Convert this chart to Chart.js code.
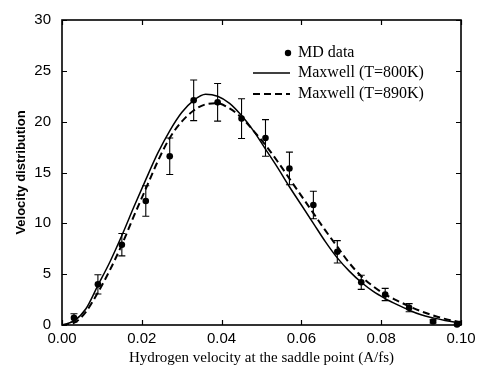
<!DOCTYPE html>
<html>
<head>
<meta charset="utf-8">
<script src="https://cdn.jsdelivr.net/npm/chart.js@4.4.1/dist/chart.umd.min.js"></script>
<style>
  html, body { margin: 0; padding: 0; background: #ffffff; }
  #wrap { width: 487px; height: 372px; }
</style>
</head>
<body>
<div id="wrap"><canvas id="c" width="487" height="372"></canvas></div>
<script>
// ---- data ----
const mdVelocity = [0.003, 0.009, 0.015, 0.021, 0.027, 0.033, 0.039, 0.045, 0.051, 0.057, 0.063, 0.069, 0.075, 0.081, 0.087, 0.093, 0.099];
const mdDistribution = [0.7, 4.0, 7.9, 12.2, 16.6, 22.1, 21.9, 20.3, 18.4, 15.4, 11.8, 7.2, 4.2, 3.0, 1.7, 0.35, 0.05];
const mdError = [0.4, 0.95, 1.1, 1.5, 1.8, 2.0, 1.85, 1.95, 1.8, 1.6, 1.35, 1.1, 0.7, 0.6, 0.4, 0.15, 0];

const curveVelocity = [0, 0.003, 0.006, 0.009, 0.012, 0.015, 0.018, 0.021, 0.024, 0.027, 0.030, 0.033, 0.036, 0.039, 0.042, 0.045, 0.048, 0.051, 0.054, 0.057, 0.060, 0.063, 0.066, 0.069, 0.072, 0.075, 0.078, 0.081, 0.084, 0.087, 0.090, 0.093, 0.096, 0.099, 0.100];
const maxwell800 = [0, 0.4, 1.6, 3.9, 6.2, 8.8, 11.6, 14.3, 16.9, 19.1, 20.9, 22.1, 22.7, 22.5, 21.8, 20.6, 19.1, 17.3, 15.5, 13.6, 11.8, 10.0, 8.2, 6.6, 5.3, 4.2, 3.3, 2.6, 2.0, 1.45, 1.0, 0.7, 0.45, 0.25, 0.2];
const maxwell890 = [0, 0.2, 1.3, 3.2, 5.4, 7.9, 10.7, 13.4, 16.1, 18.4, 20.0, 21.1, 21.7, 21.8, 21.3, 20.4, 19.1, 17.7, 16.1, 14.4, 12.7, 11.0, 9.3, 7.7, 6.1, 4.8, 3.8, 3.0, 2.4, 1.85, 1.35, 0.95, 0.6, 0.35, 0.3];

const xTickValues = [0, 0.02, 0.04, 0.06, 0.08, 0.10];
const yTickValues = [0, 5, 10, 15, 20, 25, 30];
const seriesLabels = ['MD data', 'Maxwell (T=800K)', 'Maxwell (T=890K)'];
const xTitle = 'Hydrogen velocity at the saddle point (A/fs)';
const yTitle = 'Velocity distribution';

// ---- chart ----
const toXY = (xs, ys) => xs.map((x, i) => ({ x: x, y: ys[i] }));

const frameAndTicks = {
  id: 'frameAndTicks',
  afterDraw(chart) {
    const ctx = chart.ctx, a = chart.chartArea;
    const xs = chart.scales.x, ys = chart.scales.y;
    ctx.save();
    ctx.strokeStyle = '#000';
    ctx.lineWidth = 1.6;
    ctx.strokeRect(a.left, a.top, a.right - a.left, a.bottom - a.top);
    ctx.lineWidth = 1.2;
    const tl = 5;
    ctx.beginPath();
    xTickValues.forEach(v => {
      const px = Math.round(xs.getPixelForValue(v)) + 0.5;
      ctx.moveTo(px, a.bottom); ctx.lineTo(px, a.bottom - tl);
      ctx.moveTo(px, a.top); ctx.lineTo(px, a.top + tl);
    });
    yTickValues.forEach(v => {
      const py = Math.round(ys.getPixelForValue(v)) + 0.5;
      ctx.moveTo(a.left, py); ctx.lineTo(a.left + tl, py);
      ctx.moveTo(a.right, py); ctx.lineTo(a.right - tl, py);
    });
    ctx.stroke();

    // legend (inside plot area, upper right)
    const lx0 = a.right - 208, lx1 = a.right - 171, tx = a.right - 163;
    const rows = [a.top + 33, a.top + 53, a.top + 74];
    ctx.font = '16px "Liberation Serif", serif';
    ctx.fillStyle = '#000';
    ctx.textBaseline = 'middle';
    ctx.textAlign = 'left';
    // MD data
    ctx.beginPath();
    ctx.arc(lx1 - 2, rows[0], 3.2, 0, Math.PI * 2);
    ctx.fill();
    ctx.fillText(chart.data.datasets[0].label, tx, rows[0]);
    // solid
    ctx.lineWidth = 1.5;
    ctx.setLineDash([]);
    ctx.beginPath(); ctx.moveTo(lx0, rows[1]); ctx.lineTo(lx1, rows[1]); ctx.stroke();
    ctx.fillText(chart.data.datasets[1].label, tx, rows[1]);
    // dashed
    ctx.lineWidth = 2;
    ctx.setLineDash([7, 4]);
    ctx.beginPath(); ctx.moveTo(lx0, rows[2]); ctx.lineTo(lx1, rows[2]); ctx.stroke();
    ctx.setLineDash([]);
    ctx.fillText(chart.data.datasets[2].label, tx, rows[2]);
    ctx.restore();
  }
};

const errorBars = {
  id: 'errorBars',
  afterDatasetsDraw(chart) {
    const ctx = chart.ctx;
    const xs = chart.scales.x, ys = chart.scales.y;
    ctx.save();
    ctx.strokeStyle = '#000';
    ctx.lineWidth = 1.1;
    ctx.beginPath();
    mdVelocity.forEach((v, i) => {
      const e = mdError[i];
      if (!e) return;
      const px = xs.getPixelForValue(v);
      const pt = ys.getPixelForValue(mdDistribution[i] + e);
      const pb = ys.getPixelForValue(Math.max(0, mdDistribution[i] - e));
      ctx.moveTo(px, pt); ctx.lineTo(px, pb);
      ctx.moveTo(px - 3.5, pt); ctx.lineTo(px + 3.5, pt);
      ctx.moveTo(px - 3.5, pb); ctx.lineTo(px + 3.5, pb);
    });
    ctx.stroke();
    ctx.restore();
  }
};

new Chart(document.getElementById('c'), {
  type: 'scatter',
  data: {
    datasets: [
      {
        label: seriesLabels[0],
        data: toXY(mdVelocity, mdDistribution),
        showLine: false,
        pointRadius: 3.3,
        pointBackgroundColor: '#000',
        pointBorderColor: '#000',
        pointBorderWidth: 0,
        clip: false,
        order: 0
      },
      {
        label: seriesLabels[1],
        data: toXY(curveVelocity, maxwell800),
        showLine: true,
        borderColor: '#000',
        borderWidth: 1.5,
        pointRadius: 0,
        cubicInterpolationMode: 'monotone',
        order: 1
      },
      {
        label: seriesLabels[2],
        data: toXY(curveVelocity, maxwell890),
        showLine: true,
        borderColor: '#000',
        borderWidth: 2,
        borderDash: [7, 4],
        pointRadius: 0,
        cubicInterpolationMode: 'monotone',
        order: 2
      }
    ]
  },
  options: {
    responsive: false,
    animation: false,
    devicePixelRatio: 1,
    layout: { padding: { left: 0, right: 26, top: 13, bottom: 0 } },
    plugins: { legend: { display: false }, tooltip: { enabled: false } },
    scales: {
      x: {
        type: 'linear',
        min: 0, max: 0.10,
        afterBuildTicks(scale) { scale.ticks = xTickValues.map(v => ({ value: v })); },
        afterFit(scale) { scale.height = 47; },
        grid: { display: false, drawTicks: false },
        border: { display: false },
        ticks: {
          color: '#000',
          padding: 5,
          maxRotation: 0,
          font: { family: '"Liberation Sans", Arial, sans-serif', size: 15 },
          callback: v => Number(v).toFixed(2)
        },
        title: {
          display: true,
          text: xTitle,
          color: '#000',
          font: { family: '"Liberation Serif", serif', size: 15 },
          padding: { top: 0, bottom: 5 }
        }
      },
      y: {
        type: 'linear',
        min: 0, max: 30,
        afterBuildTicks(scale) { scale.ticks = yTickValues.map(v => ({ value: v })); },
        afterFit(scale) { scale.width = 62; },
        grid: { display: false, drawTicks: false },
        border: { display: false },
        ticks: {
          color: '#000',
          padding: 11,
          font: { family: '"Liberation Sans", Arial, sans-serif', size: 15 }
        },
        title: {
          display: true,
          text: yTitle,
          color: '#000',
          font: { family: '"Liberation Sans", Arial, sans-serif', size: 13, weight: 'bold' },
          padding: { top: 14, bottom: 0 }
        }
      }
    }
  },
  plugins: [errorBars, frameAndTicks]
});
</script>
</body>
</html>
